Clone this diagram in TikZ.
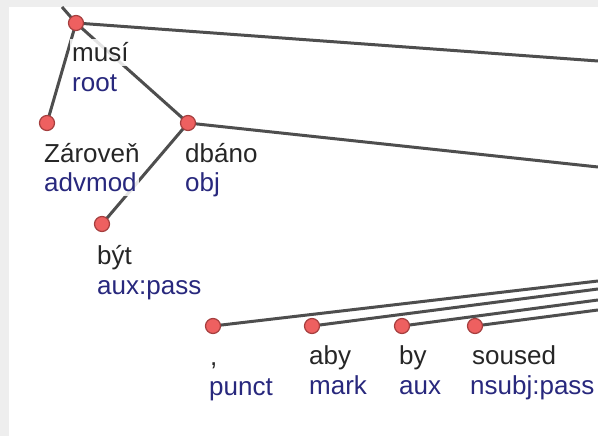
\documentclass[tikz,border=0pt]{standalone}
\usepackage{fontspec}
\setmainfont{Liberation Sans}
\definecolor{dotred}{RGB}{238,96,96}
\definecolor{dotedge}{RGB}{165,62,62}
\definecolor{edgegray}{RGB}{78,78,78}
\definecolor{relblue}{RGB}{40,40,125}
\definecolor{panelgray}{RGB}{238,238,238}
\pgfdeclarelayer{back}
\pgfdeclarelayer{edges}
\pgfsetlayers{back,edges,main}

\begin{document}
\begin{tikzpicture}[x=1pt,y=-1pt,
  tok/.style={circle,draw=dotedge,fill=dotred,line width=1.2pt,minimum size=15pt,inner sep=0pt},
  word/.style={anchor=base west,inner xsep=2pt,inner ysep=4pt,fill=white,fill opacity=0.85,text opacity=1,text=black!85,font=\fontsize{26}{30}\selectfont},
  rel/.style={word,text=relblue},
  dep/.style={draw=edgegray,line width=3pt}
]
\useasboundingbox (0,0) rectangle (598,436);
\begin{pgfonlayer}{back}
\fill[panelgray] (0,0) rectangle (598,436);
\fill[white] (9,7) rectangle (598,436);
\end{pgfonlayer}

% Nodes
\node[tok] (musi) at (76,23) {};
\node[tok] (zaroven) at (47,123) {};
\node[tok] (dbano) at (188,123) {};
\node[tok] (byt) at (102,224) {};
\node[tok] (punct) at (213,326) {};
\node[tok] (aby) at (312,326) {};
\node[tok] (by) at (402,326) {};
\node[tok] (soused) at (475,326) {};

% Labels
\node[word] (musiw) at ([xshift=-6pt,yshift=-39pt]musi.center) {musí};
\node[rel] (musir) at ([yshift=-30pt]musiw.base west) {root};
\node[word] (zarovenw) at ([xshift=-5pt,yshift=-39pt]zaroven.center) {Zároveň};
\node[rel] (zarovenr) at ([yshift=-30pt]zarovenw.base west) {advmod};
\node[word] (dbanow) at ([xshift=-5pt,yshift=-39pt]dbano.center) {dbáno};
\node[rel] (dbanor) at ([yshift=-30pt]dbanow.base west) {obj};
\node[word] (bytw) at ([xshift=-7pt,yshift=-40pt]byt.center) {být};
\node[rel] (bytr) at ([yshift=-30pt]bytw.base west) {aux:pass};
\node[word] (punctw) at ([xshift=-5pt,yshift=-39pt]punct.center) {,};
\node[rel] (punctr) at ([xshift=-1pt,yshift=-30pt]punctw.base west) {punct};
\node[word] (abyw) at ([xshift=-5pt,yshift=-38pt]aby.center) {aby};
\node[rel] (abyr) at ([yshift=-30pt]abyw.base west) {mark};
\node[word] (byw) at ([xshift=-5pt,yshift=-38pt]by.center) {by};
\node[rel] (byr) at ([yshift=-30pt]byw.base west) {aux};
\node[word] (sousedw) at ([xshift=-5pt,yshift=-38pt]soused.center) {soused};
\node[rel] (sousedr) at ([xshift=-2pt,yshift=-30pt]sousedw.base west) {nsubj:pass};

% Free ends
\coordinate (musiup) at (62,7);
\coordinate (musiout) at (598,61);
\coordinate (dbanoout) at (598,167);
\coordinate (punctout) at (598,281);
\coordinate (abyout) at (598,289);
\coordinate (byout) at (598,300);
\coordinate (sousedout) at (598,310);

% Connections
\begin{pgfonlayer}{edges}
\draw[dep] (musi.center) -- (musiup);
\draw[dep] (musi.center) -- (musiout);
\draw[dep] (musi.center) -- (zaroven.center);
\draw[dep] (musi.center) -- (dbano.center);
\draw[dep] (dbano.center) -- (dbanoout);
\draw[dep] (dbano.center) -- (byt.center);
\draw[dep] (punct.center) -- (punctout);
\draw[dep] (aby.center) -- (abyout);
\draw[dep] (by.center) -- (byout);
\draw[dep] (soused.center) -- (sousedout);
\end{pgfonlayer}
\end{tikzpicture}
\end{document}
